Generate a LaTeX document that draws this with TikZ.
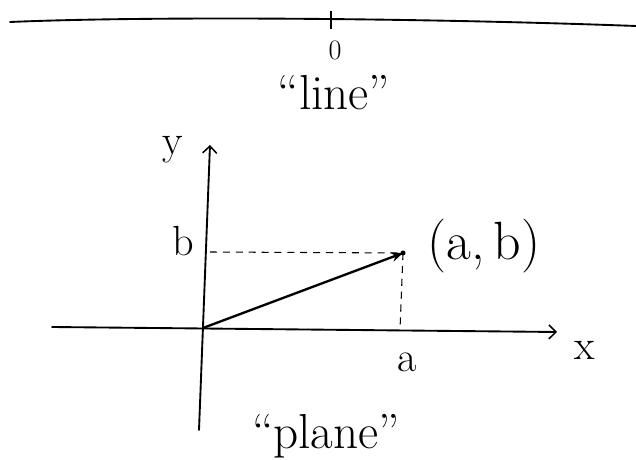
\documentclass[tikz,border=0pt]{standalone}
\usepackage{tikz}
\usetikzlibrary{arrows.meta}

\begin{document}
\begin{tikzpicture}[
    x=0.03cm, y=-0.03cm,
    pen/.style={line width=1.6pt, line cap=round, black},
    guide/.style={line width=0.9pt, dashed, dash pattern=on 6pt off 5pt, black},
    axis/.style={pen, -{Straight Barb[length=6pt, width=12pt, line width=1.3pt]}},
    vec/.style={line width=2pt, -{Stealth[length=10pt, width=8pt]}},
    big/.style={font=\fontsize{42}{46}\selectfont, inner sep=0pt},
    lbl/.style={font=\fontsize{36}{40}\selectfont, inner sep=0pt},
    tiny/.style={font=\fontsize{24}{26}\selectfont, inner sep=0pt}
]
    \useasboundingbox (0,0) rectangle (636,460);

    % the number line
    \coordinate (lineL) at (10,22);
    \coordinate (lineR) at (636,26);
    \coordinate (tickT) at (331,11);
    \coordinate (tickB) at (331,29);
    \draw[pen] (lineL) .. controls (150,16) and (420,18) .. (lineR);
    \draw[line width=2.4pt] (tickT) -- (tickB);
    \node[tiny] (zero) at (335,50) {0};
    \node[big, anchor=base] (linetxt) at (334,110) {``line''};

    % the plane
    \coordinate (O) at (203,328);
    \coordinate (xL) at (52,327);
    \coordinate (xR) at (557,332);
    \coordinate (yB) at (199,430);
    \coordinate (yT) at (210,145);
    \coordinate (P) at (403,253);
    \coordinate (Py) at (210,252);
    \coordinate (Px) at (400,330);
    \draw[axis] (xL) -- (xR);
    \draw[axis] (yB) -- (yT);
    \node[lbl] (ylbl) at (173,150) {y};
    \node[lbl] (xlbl) at (585,350) {x};

    % point (a,b)
    \draw[guide] (Py) -- (P);
    \draw[guide] (P) -- (Px);
    \draw[vec] (O) -- (P);
    \fill (P) circle (2.5);
    \node[lbl] (blbl) at (183,241) {b};
    \node[lbl] (albl) at (407,362) {a};
    \node[font=\fontsize{46}{50}\selectfont, inner sep=0pt] (pt) at (484,246) {(a,\,b)};
    \node[big, anchor=base] (planetxt) at (326,449) {``plane''};
\end{tikzpicture}
\end{document}
